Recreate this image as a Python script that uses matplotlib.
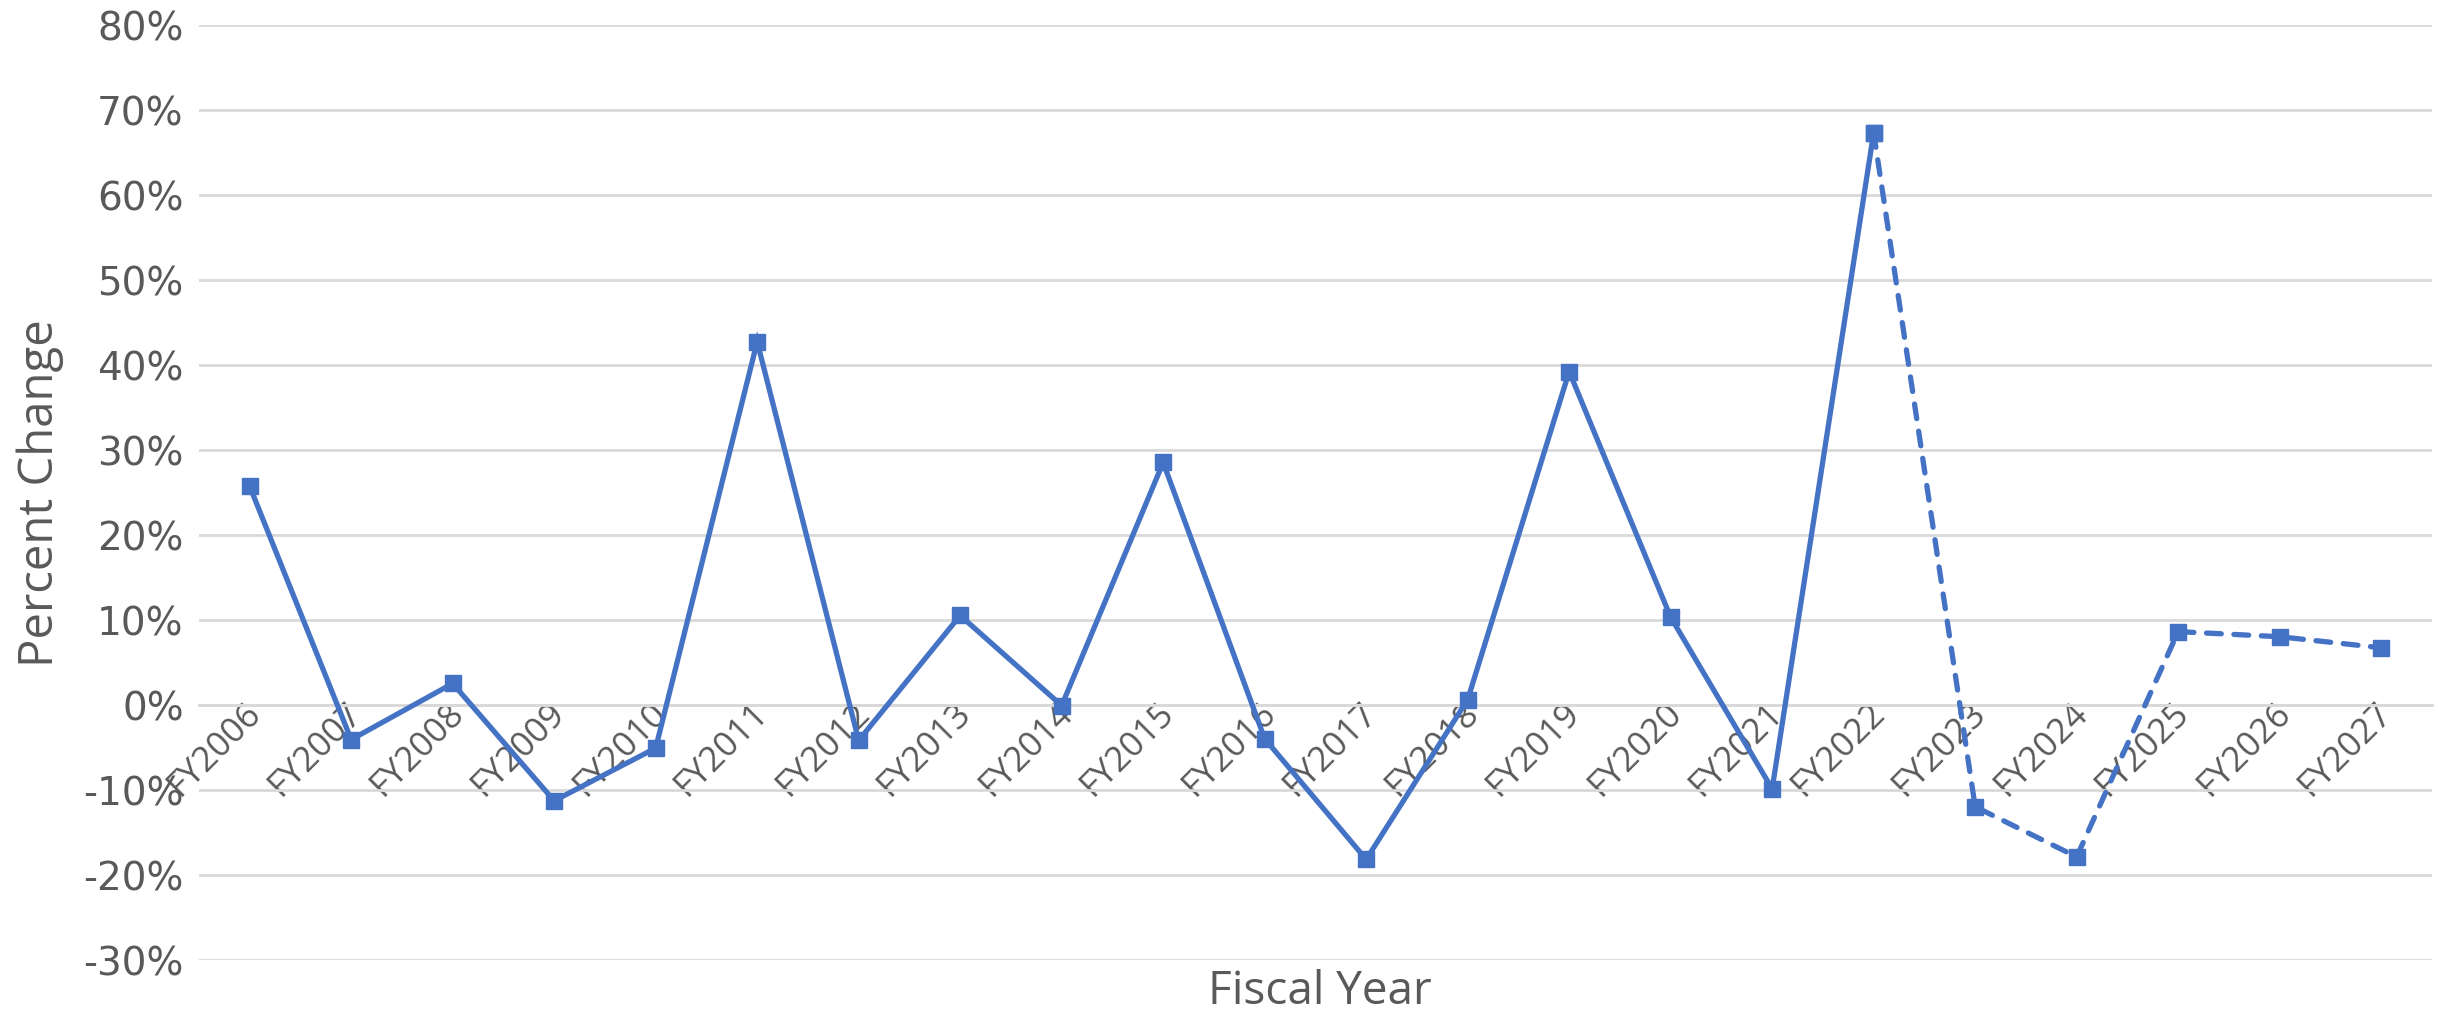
import matplotlib
matplotlib.use("Agg")
import matplotlib.pyplot as plt
from matplotlib.ticker import FuncFormatter, MultipleLocator
from matplotlib.transforms import ScaledTranslation

years = ["FY2006", "FY2007", "FY2008", "FY2009", "FY2010", "FY2011", "FY2012",
         "FY2013", "FY2014", "FY2015", "FY2016", "FY2017", "FY2018", "FY2019",
         "FY2020", "FY2021", "FY2022", "FY2023", "FY2024", "FY2025", "FY2026",
         "FY2027"]
actual = [25.7, -4.1, 2.5, -11.3, -5.1, 42.7, -4.2, 10.5, -0.1, 28.5, -4.0,
          -18.2, 0.6, 39.2, 10.3, -9.9, 67.3]
projected_years = ["FY2022", "FY2023", "FY2024", "FY2025", "FY2026", "FY2027"]
projected = [67.3, -12.0, -17.9, 8.6, 8.0, 6.7]

color = "#4472C4"
text_color = "#595959"
grid_color = "#D9D9D9"

fig = plt.figure(figsize=(24.38, 10.2), dpi=100)
ax = fig.add_axes([0.0816, 0.0581, 0.9159, 0.9167])

xa = [years.index(y) for y in years[:len(actual)]]
xp = [years.index(y) for y in projected_years]

ax.plot(xa, actual, color=color, lw=3.8, marker="s", ms=11,
        solid_joinstyle="miter", zorder=3)
ax.plot(xp, projected, color=color, lw=3.8, marker="s", ms=11,
        linestyle=(0, (2.8, 2.4)), dash_capstyle="round", zorder=3)

ax.set_xlim(-0.5, len(years) - 0.5)
ax.set_ylim(-30, 80)
ax.yaxis.set_major_locator(MultipleLocator(10))
ax.yaxis.set_major_formatter(FuncFormatter(lambda v, p: f"{v:.0f}%"))
ax.grid(axis="y", color=grid_color, lw=2)
ax.set_axisbelow(True)

for s in ["top", "right", "left"]:
    ax.spines[s].set_visible(False)
ax.spines["bottom"].set_position(("data", 0))
ax.spines["bottom"].set_color(grid_color)
ax.spines["bottom"].set_linewidth(2)

ax.set_xticks(range(len(years)))
ax.set_xticklabels(years, rotation=45, ha="right", va="center",
                   rotation_mode="anchor", fontsize=25, color=text_color,
                   family="Open Sans")
ax.tick_params(axis="x", length=0, pad=2)
shift = ScaledTranslation(6 / 100, 0, fig.dpi_scale_trans)
for t in ax.get_xticklabels():
    t.set_transform(t.get_transform() + shift)
ax.tick_params(axis="y", length=0, pad=11, labelsize=28, labelcolor=text_color)
for t in ax.get_yticklabels():
    t.set_family("DejaVu Sans")

fig.text(0.5414, 0.005, "Fiscal Year", ha="center", va="bottom",
         fontsize=33, color=text_color, family="Open Sans")
fig.text(0.0165, 0.517, "Percent Change", ha="center", va="center",
         rotation=90, fontsize=34, color=text_color, family="Open Sans")

fig.savefig("out.png", dpi=100)
